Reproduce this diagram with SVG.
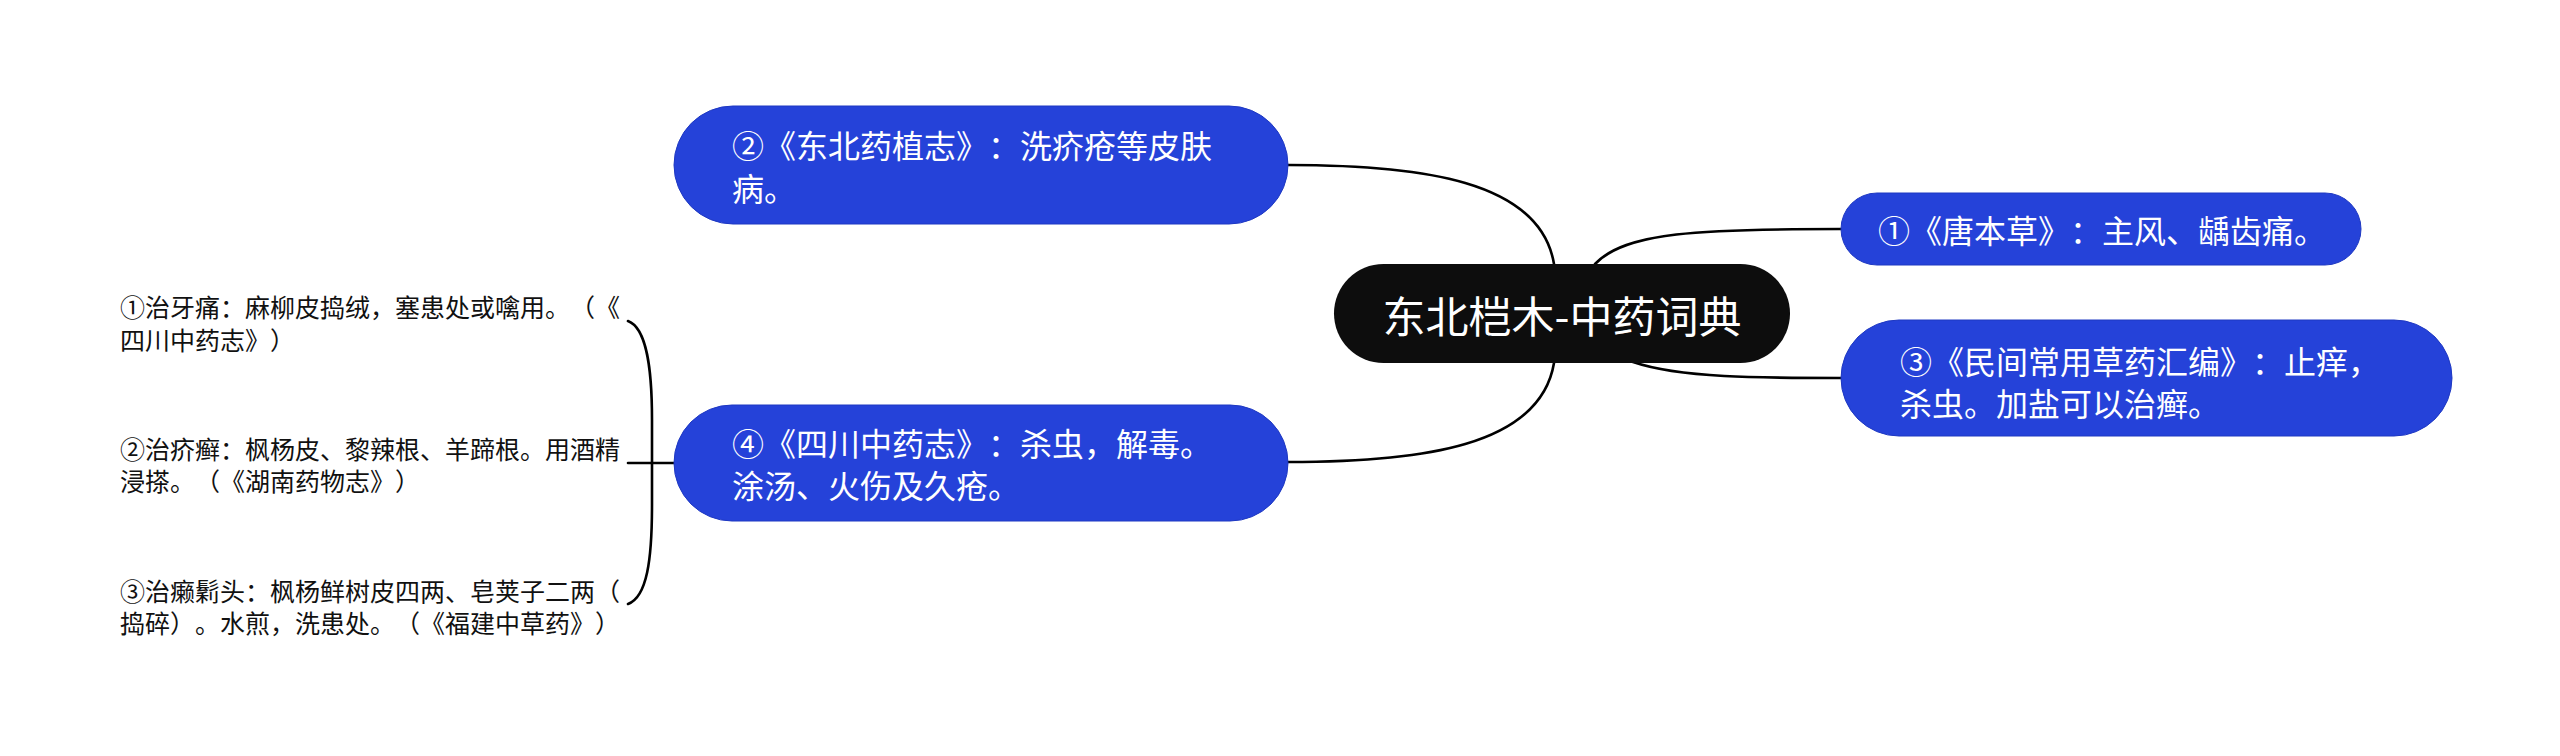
<svg xmlns="http://www.w3.org/2000/svg" width="2560" height="756" viewBox="0 0 2560 756">
<style>
text{text-spacing-trim:space-all}
.conn{fill:none;stroke:#000;stroke-width:2.6;stroke-linecap:round}
.blue{fill:#2542D9;stroke:#1E38C2;stroke-width:1}
.bt{font-family:"Noto Sans CJK SC","Noto Sans",sans-serif;font-size:32px;fill:#fff;dominant-baseline:central}
.lt{font-family:"Noto Sans CJK SC","Noto Sans",sans-serif;font-size:25px;fill:#111;dominant-baseline:central}
.ct{font-family:"Noto Sans CJK SC","Noto Sans",sans-serif;font-size:43px;fill:#fff;dominant-baseline:central;text-anchor:middle}
</style>
<rect width="2560" height="756" fill="#fff"/>
<g id="connectors">
<path class="conn" d="M1554,264 C1540,180 1420,165 1288,165"/>
<path class="conn" d="M1554,363 C1540,447 1420,462 1288,462"/>
<path class="conn" d="M1595,264 C1625,232 1700,229 1841,229"/>
<path class="conn" d="M1633,362 C1680,378 1760,378 1841,378"/>
<path class="conn" d="M628,463 L675,463" stroke-width="3"/>
<path class="conn" d="M628,321 C647,328 652,370 652,420 L652,505 C652,560 647,597 628,604" stroke-width="3.6"/>
</g>
<g id="central">
<rect x="1334" y="264" width="456" height="99" rx="49.5" fill="#0d0d0d"/>
<text class="ct" x="1562" y="314">东北桤木-中药词典</text>
</g>
<g id="node1">
<rect class="blue" x="1841" y="193" width="520" height="72" rx="36"/>
<text class="bt" x="1878" y="229">①《唐本草》：主风、龋齿痛。</text>
</g>
<g id="node2">
<rect class="blue" x="674" y="106" width="614" height="118" rx="59"/>
<text class="bt" x="732" y="144">②《东北药植志》：洗疥疮等皮肤</text>
<text class="bt" x="732" y="187">病。</text>
</g>
<g id="node3">
<rect class="blue" x="1841" y="320" width="611" height="116" rx="58"/>
<text class="bt" x="1900" y="360">③《民间常用草药汇编》：止痒，</text>
<text class="bt" x="1900" y="402">杀虫。加盐可以治癣。</text>
</g>
<g id="node4">
<rect class="blue" x="674" y="405" width="614" height="116" rx="58"/>
<text class="bt" x="732" y="442">④《四川中药志》：杀虫，解毒。</text>
<text class="bt" x="732" y="484">涂汤、火伤及久疮。</text>
</g>
<g id="leaf1">
<text class="lt" x="120" y="306">①治牙痛：麻柳皮捣绒，塞患处或噙用。（《</text>
<text class="lt" x="120" y="339">四川中药志》）</text>
</g>
<g id="leaf2">
<text class="lt" x="120" y="448">②治疥癣：枫杨皮、黎辣根、羊蹄根。用酒精</text>
<text class="lt" x="120" y="480">浸搽。（《湖南药物志》）</text>
</g>
<g id="leaf3">
<text class="lt" x="120" y="590">③治癞鬁头：枫杨鲜树皮四两、皂荚子二两（</text>
<text class="lt" x="120" y="622">捣碎）。水煎，洗患处。（《福建中草药》）</text>
</g>
</svg>
